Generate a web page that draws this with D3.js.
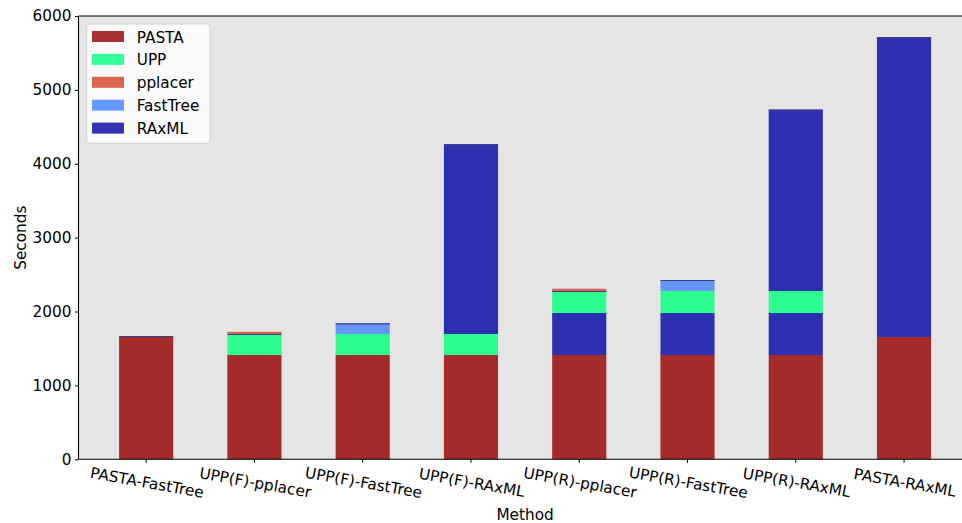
<!DOCTYPE html>
<html>
<head>
<meta charset="utf-8">
<script src="https://cdn.jsdelivr.net/npm/d3@7"></script>
<style>
  html, body { margin: 0; padding: 0; background: #ffffff; }
  svg { display: block; font-family: "DejaVu Sans", sans-serif; }
</style>
</head>
<body>
<svg id="chart" width="962" height="523"></svg>
<script>
// Pipeline runtimes (seconds), one entry per method
const methods = ["PASTA-FastTree", "UPP(F)-pplacer", "UPP(F)-FastTree", "UPP(F)-RAxML",
                 "UPP(R)-pplacer", "UPP(R)-FastTree", "UPP(R)-RAxML", "PASTA-RAxML"];
const pastaTime    = [1659, 1412, 1412, 1412, 1412, 1412, 1412, 1655];
const backboneTime = [0, 0, 0, 0, 568, 568, 568, 0];        // RAxML backbone tree for UPP(R)
const uppTime      = [0, 284, 284, 284, 298, 298, 298, 0];
const pplacerTime  = [0, 30, 0, 0, 31, 0, 0, 0];
const fasttreeTime = [10, 0, 145, 0, 0, 149, 0, 0];
const raxmlTime    = [0, 0, 0, 2568, 0, 0, 2454, 4060];
const yTicks = [0, 1000, 2000, 3000, 4000, 5000, 6000];

const legendNames  = ["PASTA", "UPP", "pplacer", "FastTree", "RAxML"];
const legendColors = ["#a83232", "#33ff99", "#d9664d", "#6699ff", "#3333b3"];

const colors = {
  PASTA: "#a52b2b",
  UPP: "#2efc90",
  pplacer: "#d6644c",
  FastTree: "#6495f5",
  RAxML: "#2e2eb0"
};

// Stacking order, bottom to top
const layers = [
  { key: "PASTA",    color: colors.PASTA,    values: pastaTime },
  { key: "backbone", color: colors.RAxML,    values: backboneTime },
  { key: "UPP",      color: colors.UPP,      values: uppTime },
  { key: "pplacer",  color: colors.pplacer,  values: pplacerTime },
  { key: "FastTree", color: colors.FastTree, values: fasttreeTime },
  { key: "RAxML",    color: colors.RAxML,    values: raxmlTime }
];

const table = methods.map((m, i) => {
  const row = { method: m };
  layers.forEach(l => { row[l.key] = l.values[i]; });
  return row;
});
const series = d3.stack().keys(layers.map(l => l.key))(table);

const svg = d3.select("#chart");
const W = 962, H = 523;
const m = { left: 78.5, top: 16, right: 971.7, bottom: 459.3 };

const x = d3.scaleBand()
  .domain(methods)
  .range([m.left, m.right])
  .paddingInner(0.5)
  .paddingOuter(0.375);

const y = d3.scaleLinear().domain([0, 6000]).range([m.bottom, m.top]);

// plot area background
svg.append("rect")
  .attr("x", m.left).attr("y", m.top)
  .attr("width", m.right - m.left).attr("height", m.bottom - m.top)
  .attr("fill", "#e5e5e5");

// stacked bars
const g = svg.append("g");
series.forEach((s, li) => {
  g.append("g")
    .attr("fill", layers[li].color)
    .selectAll("rect")
    .data(s.filter(d => d[1] > d[0]))
    .join("rect")
    .attr("x", d => x(d.data.method))
    .attr("width", x.bandwidth())
    .attr("y", d => y(d[1]))
    .attr("height", d => y(d[0]) - y(d[1]));
});

// thin dark rim along the top of each stack (below the pplacer cap)
g.append("g")
  .selectAll("line")
  .data(table)
  .join("line")
  .attr("x1", d => x(d.method))
  .attr("x2", d => x(d.method) + x.bandwidth())
  .attr("y1", d => y(d.PASTA + d.backbone + d.UPP + d.FastTree + d.RAxML) + 0.5)
  .attr("y2", d => y(d.PASTA + d.backbone + d.UPP + d.FastTree + d.RAxML) + 0.5)
  .attr("stroke", "#3c3c8e")
  .attr("stroke-width", 1.2);

// axes
const fontSize = 15.3;
const yAxis = svg.append("g")
  .attr("transform", `translate(${m.left},0)`)
  .call(d3.axisLeft(y).tickValues(yTicks).tickFormat(d3.format("d")).tickSize(3.5).tickPadding(3.5));
yAxis.select(".domain").remove();
yAxis.selectAll("text").attr("font-size", fontSize).attr("fill", "#000").attr("font-family", "DejaVu Sans");
yAxis.selectAll("line").attr("stroke", "#000");

const xAxis = svg.append("g")
  .attr("transform", `translate(0,${m.bottom})`)
  .call(d3.axisBottom(x).tickSize(3.5).tickSizeOuter(0));
xAxis.select(".domain").remove();
xAxis.selectAll("line").attr("stroke", "#000");
xAxis.selectAll("text")
  .attr("font-size", fontSize)
  .attr("fill", "#000")
  .attr("font-family", "DejaVu Sans")
  .attr("text-anchor", "middle")
  .attr("y", 0).attr("dy", 0)
  .attr("transform", "translate(0,28.5) rotate(10)");

// spines
svg.append("line").attr("x1", m.left).attr("x2", m.left).attr("y1", m.top).attr("y2", m.bottom)
  .attr("stroke", "#000").attr("stroke-width", 1.1);
svg.append("line").attr("x1", m.left).attr("x2", W).attr("y1", m.top).attr("y2", m.top)
  .attr("stroke", "#000").attr("stroke-width", 1.1);
svg.append("line").attr("x1", m.left).attr("x2", W).attr("y1", m.bottom).attr("y2", m.bottom)
  .attr("stroke", "#000").attr("stroke-width", 1.1);

// axis titles
svg.append("text")
  .attr("x", (m.left + m.right) / 2).attr("y", 520)
  .attr("text-anchor", "middle").attr("font-size", fontSize)
  .text("Method");
svg.append("text")
  .attr("transform", `translate(25.5,${(m.top + m.bottom) / 2}) rotate(-90)`)
  .attr("text-anchor", "middle").attr("font-size", fontSize)
  .text("Seconds");

// legend
const lg = svg.append("g");
lg.append("rect")
  .attr("x", 86.7).attr("y", 24).attr("width", 123.3).attr("height", 119.3)
  .attr("rx", 2.5)
  .attr("fill", "#fafafa").attr("stroke", "#d4d4d4").attr("stroke-width", 1);
const items = lg.selectAll("g.item")
  .data(legendNames)
  .join("g")
  .attr("class", "item")
  .attr("transform", (d, i) => `translate(0,${36.5 + i * 22.9})`);
items.append("rect")
  .attr("x", 92).attr("y", -5.5).attr("width", 32).attr("height", 11)
  .attr("fill", (d, i) => legendColors[i]);
items.append("text")
  .attr("x", 136.7).attr("y", 6)
  .attr("font-size", fontSize).attr("fill", "#000")
  .text(d => d);
</script>
</body>
</html>
